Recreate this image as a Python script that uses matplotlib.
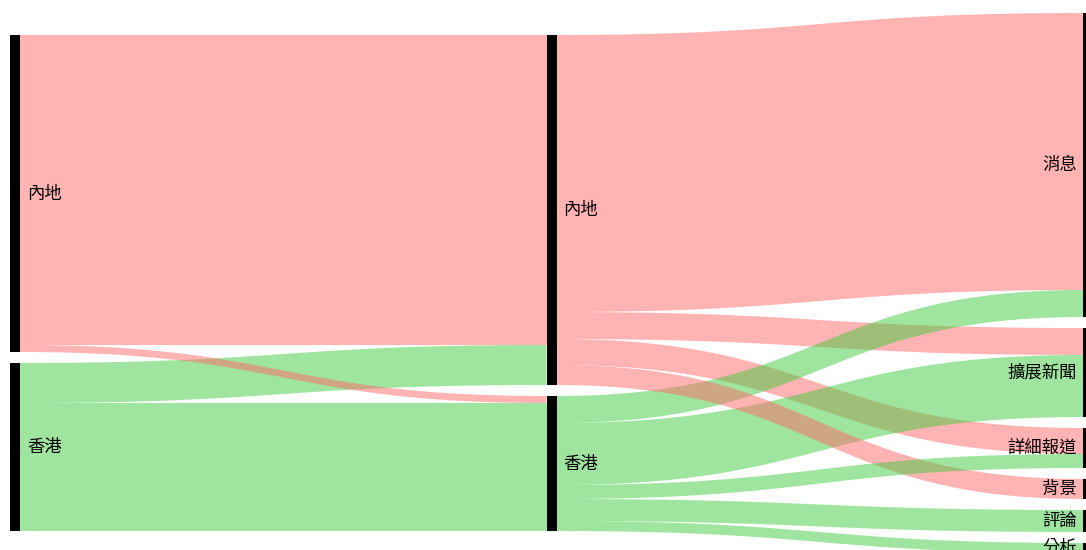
import numpy as np
import matplotlib.pyplot as plt
from matplotlib.patches import Polygon, Rectangle

plt.rcParams['font.family'] = ['Noto Sans CJK TC', 'DejaVu Sans']
plt.rcParams['path.simplify'] = False

# node names per column
col_nodes = [
    ["內地", "香港"],
    ["內地", "香港"],
    ["消息", "擴展新聞", "詳細報道", "背景", "評論", "分析"],
]

# links (listed in draw order)
link_src_col = [0, 0, 1, 1, 1, 1, 1, 1, 1, 1, 1]
link_src = ["香港", "內地", "內地", "內地", "內地", "香港", "香港", "內地", "香港", "香港", "香港"]
link_tgt = ["內地", "香港", "消息", "擴展新聞", "詳細報道", "擴展新聞", "消息", "背景", "詳細報道", "評論", "分析"]
link_val = [40, 7, 277, 27, 26, 62, 27, 20, 14, 22, 10]
# first layer flow that stays in the same region
base_src = ["內地", "香港"]
base_tgt = ["內地", "香港"]
base_val = [310, 128]

colors = {"內地": (1.0, 0.41, 0.41, 0.5), "香港": (0.25, 0.80, 0.25, 0.5)}

# full link table: (src_col, src, tgt_col, tgt, value)
links = [(0, s, 1, t, v) for s, t, v in zip(base_src, base_tgt, base_val)]
links += [(c, s, c + 1, t, v) for c, s, t, v in zip(link_src_col, link_src, link_tgt, link_val)]

# layout parameters
W, H = 1086, 550
x_left, col_step, node_w = 10, 536.5, 10
pad = 11
y_center = 283

# node sizes
size = {}
for c, names in enumerate(col_nodes):
    for n in names:
        out_v = sum(l[4] for l in links if l[0] == c and l[1] == n)
        in_v = sum(l[4] for l in links if l[2] == c and l[3] == n)
        size[(c, n)] = max(out_v, in_v)

# stack nodes in each column, centered
pos = {}
for c, names in enumerate(col_nodes):
    total = sum(size[(c, n)] for n in names) + pad * (len(names) - 1)
    y = y_center - total / 2
    for n in names:
        pos[(c, n)] = y
        y += size[(c, n)] + pad

# link offsets inside nodes
src_off, tgt_off = {}, {}
for c, names in enumerate(col_nodes):
    for n in names:
        outs = sorted([i for i, l in enumerate(links) if l[0] == c and l[1] == n],
                      key=lambda i: pos[(links[i][2], links[i][3])])
        y = pos[(c, n)]
        for i in outs:
            src_off[i] = y
            y += links[i][4]
        ins = sorted([i for i, l in enumerate(links) if l[2] == c and l[3] == n],
                     key=lambda i: pos[(links[i][0], links[i][1])])
        y = pos[(c, n)]
        for i in ins:
            tgt_off[i] = y
            y += links[i][4]

fig = plt.figure(figsize=(W / 100, H / 100), dpi=100)
ax = fig.add_axes([0, 0, 1, 1])
ax.set_xlim(0, W)
ax.set_ylim(H, 0)
ax.axis('off')

t = np.linspace(0, 1, 80)
b0 = (1 - t) ** 3 + 3 * (1 - t) ** 2 * t
b1 = 1 - b0


def bez_x(xa, xb):
    xm = (xa + xb) / 2
    return (1 - t) ** 3 * xa + 3 * (1 - t) ** 2 * t * xm + 3 * (1 - t) * t ** 2 * xm + t ** 3 * xb


# links, drawn in list order
for i in range(len(links)):
    sc, s, tc, tg, v = links[i]
    xa = x_left + sc * col_step + node_w
    xb = x_left + tc * col_step
    xs = bez_x(xa, xb)
    if src_off[i] == tgt_off[i]:
        top = np.full_like(t, src_off[i])
    else:
        top = src_off[i] * b0 + tgt_off[i] * b1
    bot = top + v
    pts = np.concatenate([np.column_stack([xs, top]), np.column_stack([xs[::-1], bot[::-1]])])
    ax.add_patch(Polygon(pts, closed=True, facecolor=colors[s], edgecolor='none'))

# nodes and labels
for c, names in enumerate(col_nodes):
    x0 = x_left + c * col_step
    for n in names:
        y0 = pos[(c, n)]
        h = size[(c, n)]
        ax.add_patch(Rectangle((x0, y0), node_w, h, facecolor='black', edgecolor='none'))
        if c < len(col_nodes) - 1:
            ax.text(x0 + node_w + 7, y0 + h / 2, n, ha='left', va='center', fontsize=12.5)
        else:
            ax.text(x0 - 6, y0 + h / 2, n, ha='right', va='center', fontsize=12.5)

fig.savefig("out.png", dpi=100)
